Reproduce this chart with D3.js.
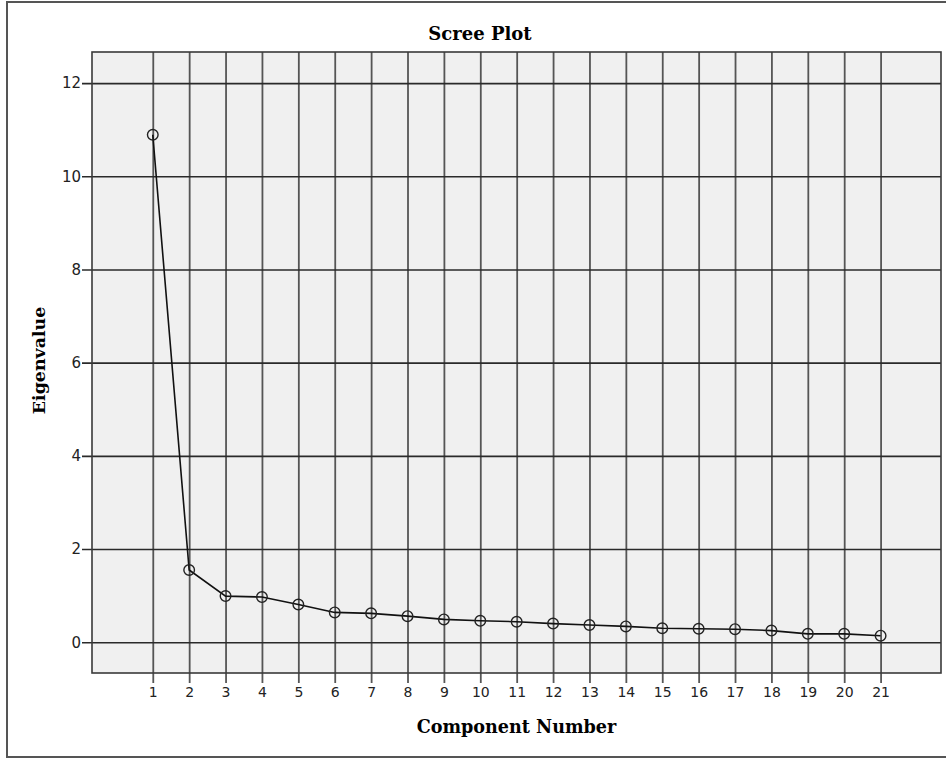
<!DOCTYPE html>
<html>
<head>
<meta charset="utf-8">
<script src="https://cdn.jsdelivr.net/npm/d3@7"></script>
<style>
  body { margin: 0; background: #fff; }
  svg { display: block; }
</style>
</head>
<body>
<svg id="chart" width="946" height="758"></svg>
<script>
// scree plot data
var components = [1, 2, 3, 4, 5, 6, 7, 8, 9, 10, 11, 12, 13, 14, 15, 16, 17, 18, 19, 20, 21];
var eigenvalues = [10.89, 1.55, 0.99, 0.97, 0.81, 0.64, 0.62, 0.56, 0.49, 0.46, 0.44, 0.40,
                   0.37, 0.34, 0.30, 0.29, 0.28, 0.25, 0.18, 0.18, 0.14];
var yTicks = [0, 2, 4, 6, 8, 10, 12];
var chartTitle = "Scree Plot";
var xTitle = "Component Number";
var yTitle = "Eigenvalue";

var svg = d3.select("#chart");
var plot = {left: 92, top: 52, right: 941, bottom: 673};
var w = plot.right - plot.left, h = plot.bottom - plot.top;

// outer frame
svg.append("rect")
  .attr("x", 7).attr("y", 2)
  .attr("width", 946).attr("height", 755)
  .attr("fill", "#fff")
  .attr("stroke", "#555").attr("stroke-width", 2);

var x = d3.scaleLinear().domain([-0.67, 22.66]).range([0, w]);
var y = d3.scaleLinear().domain([-0.66, 12.667]).range([h, 0]);

var g = svg.append("g").attr("transform", "translate(" + plot.left + "," + plot.top + ")");

g.append("rect")
  .attr("width", w).attr("height", h)
  .attr("fill", "#f0f0f0");

// vertical grid + ticks below
var xAxis = g.append("g")
  .attr("transform", "translate(0," + h + ")")
  .call(d3.axisBottom(x).tickValues(components).tickSize(10).tickPadding(4).tickFormat(d3.format("d")));
xAxis.select(".domain").remove();
xAxis.selectAll(".tick line")
  .attr("y1", -h).attr("y2", 10)
  .attr("stroke", "#3a3a3a").attr("stroke-width", 1.8).attr("stroke-opacity", 0.85);
xAxis.selectAll(".tick text")
  .attr("font-family", "DejaVu Sans").attr("font-size", 14).attr("fill", "#222");

// horizontal grid + ticks left
var yAxis = g.append("g")
  .call(d3.axisLeft(y).tickValues(yTicks).tickSize(10).tickPadding(1));
yAxis.select(".domain").remove();
yAxis.selectAll(".tick line")
  .attr("x1", -10).attr("x2", w)
  .attr("stroke", "#2a2a2a").attr("stroke-width", 1.6);
yAxis.selectAll(".tick text")
  .attr("font-family", "DejaVu Sans").attr("font-size", 15).attr("fill", "#222");

// plot border
g.append("rect")
  .attr("width", w).attr("height", h)
  .attr("fill", "none")
  .attr("stroke", "#3a3a3a").attr("stroke-width", 1.6);

var pts = components.map(function(c, i) { return [c, eigenvalues[i]]; });

var line = d3.line()
  .x(function(d) { return x(d[0]); })
  .y(function(d) { return y(d[1]); });

g.append("path")
  .datum(pts)
  .attr("d", line)
  .attr("fill", "none")
  .attr("stroke", "#111").attr("stroke-width", 1.6);

g.selectAll("circle.pt")
  .data(pts)
  .enter().append("circle")
  .attr("class", "pt")
  .attr("cx", function(d) { return x(d[0]); })
  .attr("cy", function(d) { return y(d[1]); })
  .attr("r", 5.3)
  .attr("fill", "none")
  .attr("stroke", "#222").attr("stroke-width", 1.4);

// titles
svg.append("text")
  .attr("x", 480).attr("y", 40)
  .attr("text-anchor", "middle")
  .attr("font-family", "DejaVu Serif").attr("font-weight", "bold").attr("font-size", 18)
  .text(chartTitle);

svg.append("text")
  .attr("x", plot.left + w / 2).attr("y", 733)
  .attr("text-anchor", "middle")
  .attr("font-family", "DejaVu Serif").attr("font-weight", "bold").attr("font-size", 17.6)
  .text(xTitle);

svg.append("text")
  .attr("transform", "translate(45," + (plot.top + h / 2 - 2) + ") rotate(-90)")
  .attr("text-anchor", "middle")
  .attr("font-family", "DejaVu Serif").attr("font-weight", "bold").attr("font-size", 17.4)
  .text(yTitle);
</script>
</body>
</html>
